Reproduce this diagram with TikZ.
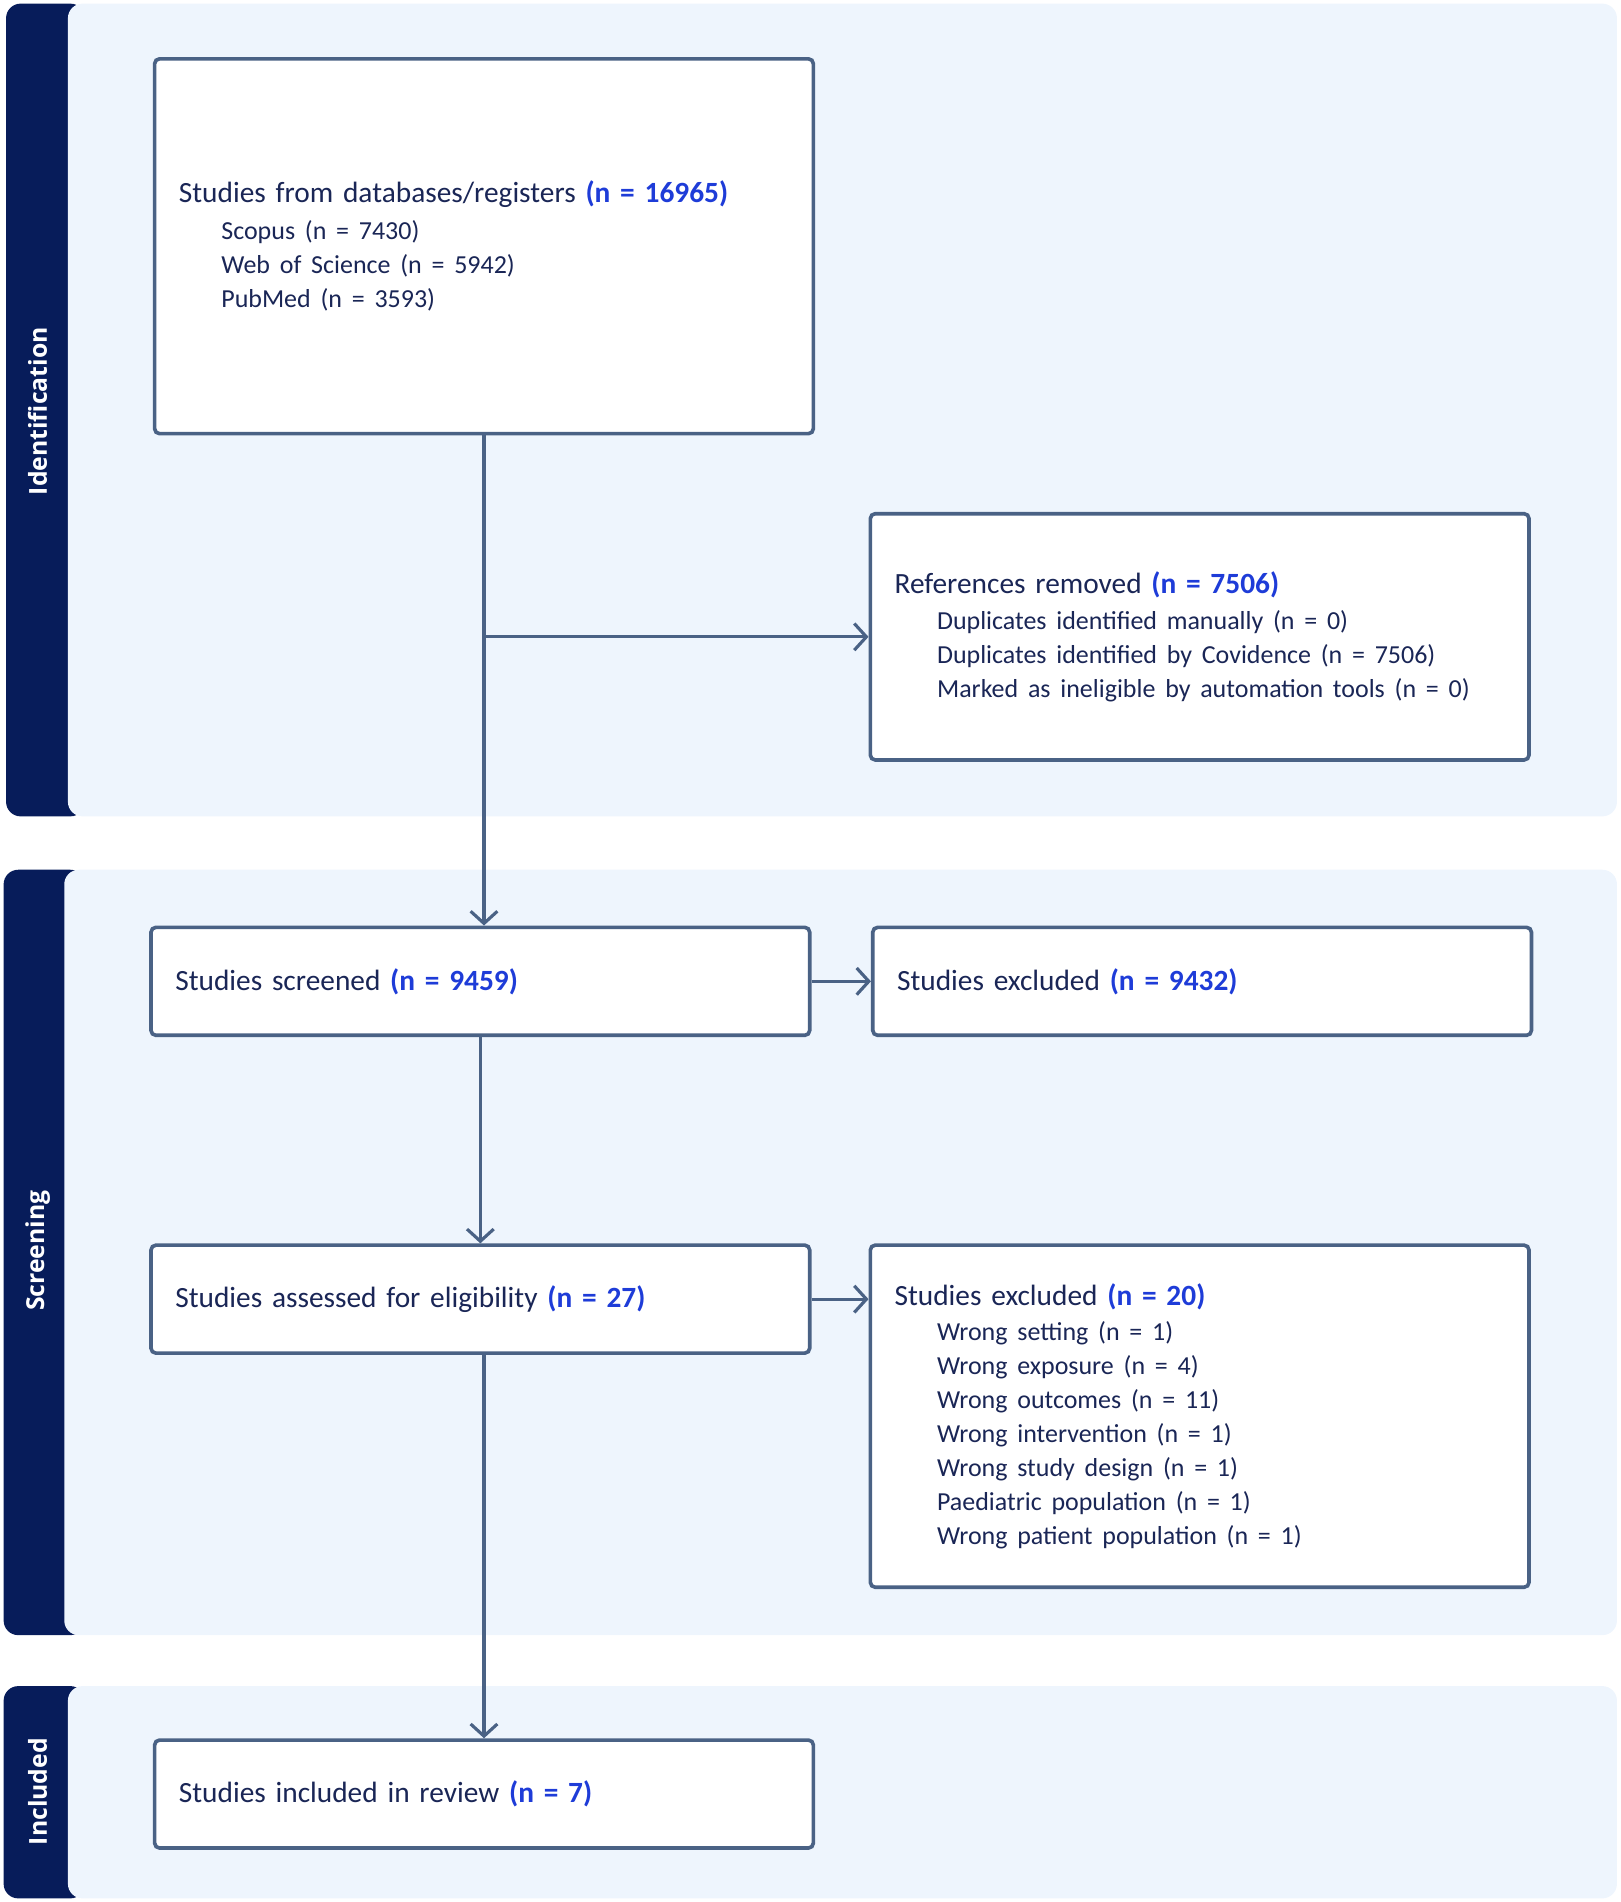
\documentclass[tikz,border=0pt]{standalone}
\usepackage{fontspec}
\setmainfont{Carlito}
\newfontfamily\bandfont{Open Sans}
\usetikzlibrary{arrows.meta,positioning}

\definecolor{navyband}{HTML}{071C5A}
\definecolor{panelbg}{HTML}{EEF5FD}
\definecolor{boxline}{HTML}{4A6285}
\definecolor{txtdark}{HTML}{1A2656}
\definecolor{nblue}{HTML}{1E3CD8}

\newcommand{\nval}[1]{\textcolor{nblue}{\bfseries #1}}
\newcommand{\reason}[1]{\hspace*{17.5pt}{\fontsize{10.7}{14}\selectfont #1}}

\begin{document}
\begin{tikzpicture}[x=0.5pt,y=-0.5pt,
	box/.style={draw=boxline, line width=1.5pt, rounded corners=2pt, fill=white,
		anchor=north west, minimum width=271.5pt, text width=251.5pt, inner xsep=10pt,
		align=left, text=txtdark, font=\fontsize{12.1}{14}\selectfont},
	flow/.style={draw=boxline, line width=1.3pt, -{Straight Barb[length=5pt,width=11pt]}},
	bandlabel/.style={rotate=90, text=white, font=\bandfont\bfseries\fontsize{10.2}{12}\selectfont}]

	\useasboundingbox (0,0) rectangle (1336,1568);

	% panels
	\fill[navyband, rounded corners=6pt] (5,3) rectangle (70,673);
	\fill[panelbg, rounded corners=6pt] (56,3) rectangle (1333,673);
	\fill[navyband, rounded corners=6pt] (3,717) rectangle (70,1348);
	\fill[panelbg, rounded corners=6pt] (53,717) rectangle (1333,1348);
	\fill[navyband, rounded corners=6pt] (3,1390) rectangle (70,1565);
	\fill[panelbg, rounded corners=6pt] (56,1390) rectangle (1333,1565);

	\node[bandlabel] (idlabel) at (31,339) {Identification};
	\node[bandlabel] (scrlabel) at (31,1031) {Screening};
	\node[bandlabel] (inclabel) at (31,1477) {Included};

	% boxes
	\node[box, minimum height=154.5pt] (sources) at (126,47) {Studies from databases/registers \nval{(n = 16965)}\\[1.2pt]
		\reason{Scopus (n = 7430)}\\
		\reason{Web of Science (n = 5942)}\\
		\reason{PubMed (n = 3593)}};
	\node[box, minimum height=101.5pt] (removed) at (716,422) {References removed \nval{(n = 7506)}\\[1.2pt]
		\reason{Duplicates identified manually (n = 0)}\\
		\reason{Duplicates identified by Covidence (n = 7506)}\\
		\reason{Marked as ineligible by automation tools (n = 0)}};
	\node[box, minimum height=44.5pt] (screened) at (123,763) {Studies screened \nval{(n = 9459)}};
	\node[box, minimum height=44.5pt] (excl1) at (718,763) {Studies excluded \nval{(n = 9432)}};
	\node[box, minimum height=44.5pt] (assessed) at (123,1025) {Studies assessed for eligibility \nval{(n = 27)}};
	\node[box, minimum height=141pt] (excl2) at (716,1025) {Studies excluded \nval{(n = 20)}\\[0.8pt]
		\reason{Wrong setting (n = 1)}\\
		\reason{Wrong exposure (n = 4)}\\
		\reason{Wrong outcomes (n = 11)}\\
		\reason{Wrong intervention (n = 1)}\\
		\reason{Wrong study design (n = 1)}\\
		\reason{Paediatric population (n = 1)}\\
		\reason{Wrong patient population (n = 1)}};
	\node[box, minimum height=44.5pt] (included) at (126,1433) {Studies included in review \nval{(n = 7)}};

	% arrows
	\coordinate (split) at (sources.south |- removed.west);
	\draw[flow] (sources.south) -- (sources.south |- screened.north);
	\draw[flow] (split) -- (removed.west);
	\draw[flow] (screened.east) -- (excl1.west);
	\draw[flow] (screened.south) -- (assessed.north);
	\draw[flow] (assessed.east) -- (assessed.east -| excl2.west);
	\draw[flow] (included.north |- assessed.south) -- (included.north);

\end{tikzpicture}
\end{document}
